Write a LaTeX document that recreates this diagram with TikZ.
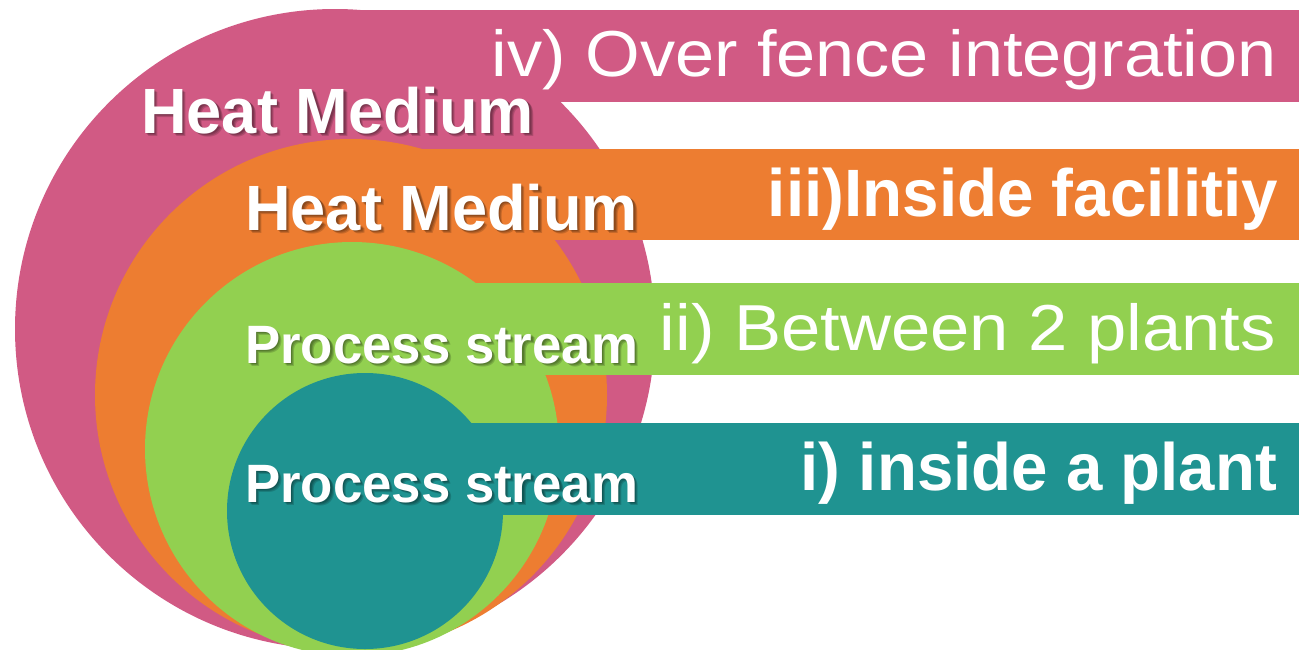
\documentclass[tikz,border=0pt]{standalone}
\usepackage{fontspec}
\setmainfont{Liberation Sans}
\definecolor{cpink}{HTML}{D15A84}
\definecolor{corange}{HTML}{ED7D31}
\definecolor{cgreen}{HTML}{92D050}
\definecolor{cteal}{HTML}{1F9391}
\tikzset{
  lefttext/.style={anchor=base west, inner sep=0pt, text=white, font=\bfseries},
  lshadow/.style={anchor=base west, inner sep=0pt, text=black, opacity=0.16, font=\bfseries},
  righttext/.style={anchor=base east, inner sep=0pt, text=white},
}
\newcommand{\hmtext}{\resizebox{393pt}{\height}{\fontsize{64}{64}\selectfont Heat Medium}}
\newcommand{\pstext}{\resizebox{393pt}{\height}{\fontsize{54}{54}\selectfont Process stream}}
\begin{document}
\begin{tikzpicture}[x=1pt,y=-1pt]
\useasboundingbox (0,0) rectangle (1301,649);
\clip (0,0) rectangle (1301,649);
% iv
\fill[cpink] (335,329) circle[radius=320pt];
\fill[cpink] (335,10) rectangle (1299,102);
% iii
\fill[corange] (351,395) circle[radius=256pt];
\fill[corange] (351,149) rectangle (1299,240);
% ii
\fill[cgreen] (352,449) circle[radius=207pt];
\fill[cgreen] (352,283) rectangle (1299,375);
% i
\fill[cteal] (365,511) circle[radius=138pt];
\fill[cteal] (365,423) rectangle (1299,515);
% left labels with soft shadow
\foreach \d in {1.5,2.5,3.5} {
  \node[lshadow] (hm4s\d) at (141+\d,133+\d) {\hmtext};
  \node[lshadow] (hm3s\d) at (245+\d,230+\d) {\hmtext};
  \node[lshadow] (ps2s\d) at (245+\d,363+\d) {\pstext};
  \node[lshadow] (ps1s\d) at (245+\d,502+\d) {\pstext};
}
\node[lefttext] (hm4) at (141,133) {\hmtext};
\node[lefttext] (hm3) at (245,230) {\hmtext};
\node[lefttext] (ps2) at (245,363) {\pstext};
\node[lefttext] (ps1) at (245,502) {\pstext};
% right labels
\node[righttext] (l4) at (1277,76) {\resizebox{785pt}{\height}{\fontsize{65}{65}\selectfont iv) Over fence integration}};
\node[righttext] (l3) at (1278,216) {\resizebox{510pt}{\height}{\fontsize{67}{67}\selectfont\bfseries iii)Inside facilitiy}};
\node[righttext] (l2) at (1276,350) {\resizebox{616pt}{\height}{\fontsize{65}{65}\selectfont ii) Between 2 plants}};
\node[righttext] (l1) at (1277,490) {\resizebox{476pt}{\height}{\fontsize{67}{67}\selectfont\bfseries i) inside a plant}};
\end{tikzpicture}
\end{document}
